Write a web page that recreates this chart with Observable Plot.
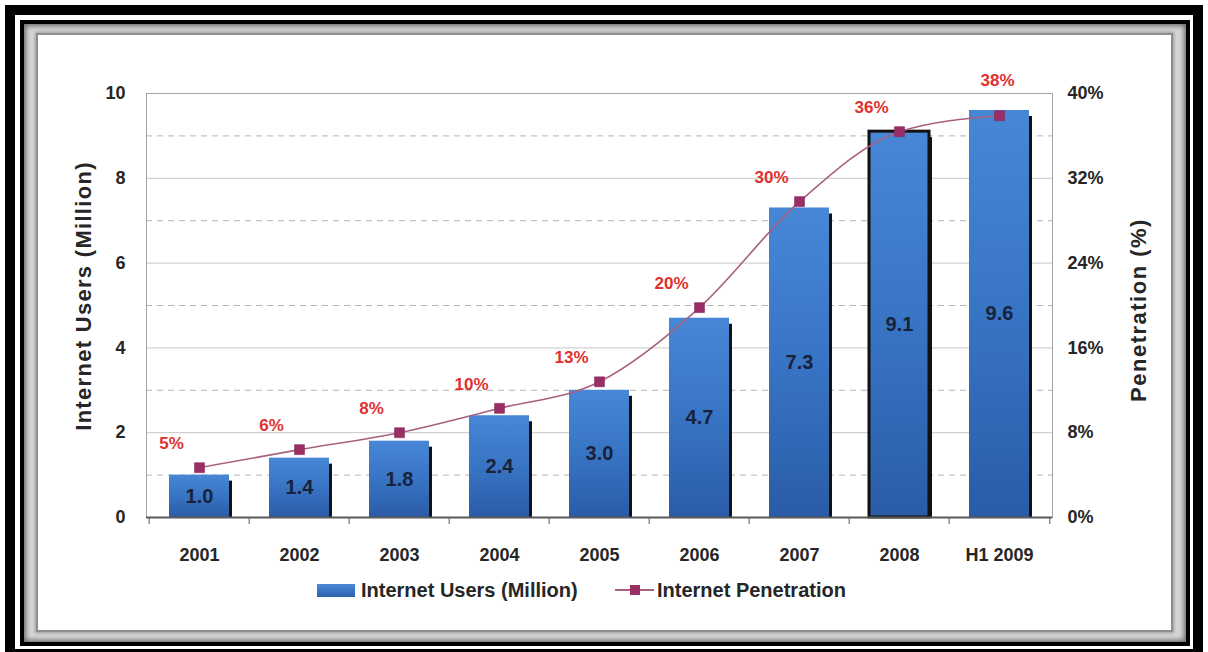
<!DOCTYPE html>
<html>
<head>
<meta charset="utf-8">
<script src="https://cdn.jsdelivr.net/npm/d3@7"></script>
<script src="https://cdn.jsdelivr.net/npm/@observablehq/plot@0.6"></script>
<style>
  html, body { margin: 0; padding: 0; background: #fff; width: 1208px; height: 652px; overflow: hidden; }
  body { position: relative; font-family: "Liberation Sans", Arial, sans-serif; font-weight: bold; color: #2b2b2b; }
  .abs { position: absolute; box-sizing: border-box; }
  #outer { left: 5px; top: 5px; width: 1198px; height: 654px; border: 10px solid #000; }
  #bevel { left: 20px; top: 20px; width: 1170px; height: 626px; border: 4px solid #000;
           background: #d6d6d6; box-shadow: inset 0 0 5px 2px #6a6a6a; }
  #panel { left: 36px; top: 33px; width: 1137px; height: 599px; background: #fff;
           border: 2px solid #8e8e8e; box-shadow: 0 0 3px 1px #9a9a9a; }
  #chart { left: 0; top: 0; }
  .title { position: absolute; white-space: nowrap; font-size: 22px; transform: translate(-50%, -50%) rotate(-90deg); color: #262626; }
  .legend { position: absolute; font-size: 20px; line-height: 20px; white-space: nowrap; color: #262626; }
</style>
</head>
<body>
<div id="outer" class="abs"></div>
<div id="bevel" class="abs"></div>
<div id="panel" class="abs"></div>
<div id="chart" class="abs"></div>
<div class="title" style="left:84px; top:296px; letter-spacing:1.3px;">Internet Users (Million)</div>
<div class="title" style="left:1139px; top:310px; letter-spacing:1.5px;">Penetration (%)</div>
<div class="abs" style="left:317px; top:584px; width:38px; height:13px; background:linear-gradient(#4a8ad8,#2c62ad);"></div>
<div class="legend" style="left:361px; top:580px;">Internet Users (Million)</div>
<div class="abs" style="left:615px; top:589px; width:39px; height:2px; background:#a8607f;"></div>
<div class="abs" style="left:630px; top:585px; width:10px; height:10px; background:#9a2f66;"></div>
<div class="legend" style="left:657px; top:580px;">Internet Penetration</div>
<script>
// ---- data ----
const years = ["2001", "2002", "2003", "2004", "2005", "2006", "2007", "2008", "H1 2009"];
const users = [1.0, 1.4, 1.8, 2.4, 3.0, 4.7, 7.3, 9.1, 9.6];
const penetration = [4.7, 6.4, 8.0, 10.3, 12.8, 19.8, 29.8, 36.4, 37.9];
const penetrationLabels = ["5%", "6%", "8%", "10%", "13%", "20%", "30%", "36%", "38%"];
const leftTicks = [0, 2, 4, 6, 8, 10];
const rightTickLabels = ["0%", "8%", "16%", "24%", "32%", "40%"];
const leftMax = 10;
const rightMax = 40;

const data = years.map((year, i) => ({
  year, users: users[i], pct: penetration[i], pctLabel: penetrationLabels[i]
}));
const pctToY = d => d.pct * leftMax / rightMax;

const W = 1208, H = 652, mL = 146, mR = 156, mT = 93, mB = 135;
const step = (W - mL - mR) / years.length;

const chart = Plot.plot({
  width: W, height: H,
  marginLeft: mL, marginRight: mR, marginTop: mT, marginBottom: mB,
  x: {domain: years, paddingInner: 0.4, paddingOuter: 0.2, label: null},
  y: {domain: [0, leftMax], label: null},
  style: {background: "transparent", fontFamily: "'Liberation Sans', Arial, sans-serif",
          fontWeight: "bold", fontSize: "18px", color: "#262626", overflow: "visible"},
  marks: [
    Plot.gridY([1, 3, 5, 7, 9], {stroke: "#b4b4b4", strokeOpacity: 1, strokeDasharray: "6,5"}),
    Plot.gridY([2, 4, 6, 8], {stroke: "#c6c6c6", strokeOpacity: 1}),
    Plot.frame({stroke: "#a4a4a4"}),
    Plot.barY(data, {x: "year", y: "users", fill: "#121212", dx: 3, insetTop: 6}),
    Plot.barY(data, {x: "year", y: "users", fill: "url(#barGrad)"}),
    Plot.barY(data.filter(d => d.year === "2008"), {x: "year", y: "users", fill: "none", stroke: "#111", strokeWidth: 3}),
    Plot.text(data, {x: "year", y: d => d.users / 2, text: d => d.users.toFixed(1), fill: "#18223a", fontSize: 20}),
    Plot.ruleY([0], {stroke: "#5a5a5a", strokeWidth: 2}),
    Plot.axisX(years, {tickSize: 7, dx: -step / 2, tickFormat: () => "", stroke: "#5a5a5a", label: null}),
    Plot.axisX(years.slice(-1), {tickSize: 7, dx: step / 2, tickFormat: () => "", stroke: "#5a5a5a", label: null}),
    Plot.axisX(years, {tickSize: 0, tickPadding: 31, fontSize: 18, label: null}),
    Plot.axisY(leftTicks, {anchor: "left", tickSize: 0, tickPadding: 21, fontSize: 18, label: null}),
    Plot.axisY(leftTicks, {anchor: "right", tickSize: 0, tickPadding: 15, fontSize: 18, label: null,
      tickFormat: d => rightTickLabels[leftTicks.indexOf(d)]}),
    Plot.line(data, {x: "year", y: pctToY, stroke: "#a8607f", strokeWidth: 1.6, curve: "monotone-x"}),
    Plot.dot(data, {x: "year", y: pctToY, symbol: "square", r: 5.6, fill: "#9a2f66", stroke: "#86295a", strokeWidth: 0.6}),
    Plot.text(data.slice(0, -1), {x: "year", y: pctToY, text: "pctLabel", dx: -28, dy: -24, fill: "#e0312f", fontSize: 17}),
    Plot.text(data.slice(-1), {x: "year", y: pctToY, text: "pctLabel", dx: -2, dy: -35, fill: "#e0312f", fontSize: 17})
  ]
});

const defs = d3.select(chart).insert("defs", ":first-child");
const g = defs.append("linearGradient").attr("id", "barGrad").attr("x1", 0).attr("y1", 0).attr("x2", 0).attr("y2", 1);
g.append("stop").attr("offset", "0%").attr("stop-color", "#4787d6");
g.append("stop").attr("offset", "50%").attr("stop-color", "#3874c4");
g.append("stop").attr("offset", "100%").attr("stop-color", "#2a5ca6");

document.getElementById("chart").appendChild(chart);
</script>
</body>
</html>
